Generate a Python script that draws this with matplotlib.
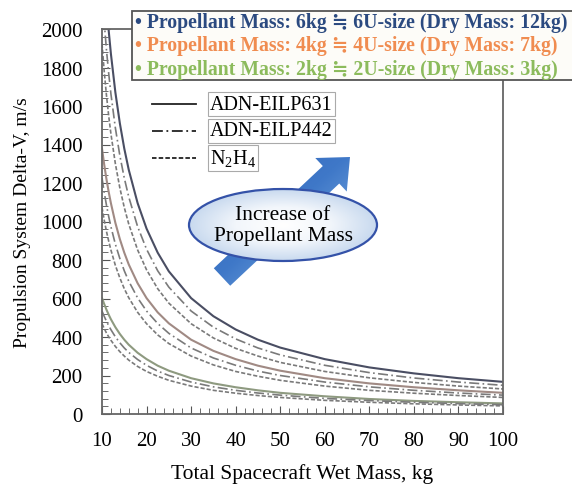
import numpy as np
import matplotlib
matplotlib.use('Agg')
import matplotlib.pyplot as plt
from matplotlib.patches import Ellipse, FancyArrow, Rectangle
from matplotlib.ticker import MultipleLocator
from matplotlib.colors import LinearSegmentedColormap

plt.rcParams['font.family'] = ['Liberation Serif', 'DejaVu Serif', 'DejaVu Sans']
plt.rcParams['mathtext.fontset'] = 'custom'
plt.rcParams['mathtext.rm'] = 'Liberation Serif'

# 横轴: 总湿质量 kg
wet_mass = [10, 10.5, 11, 11.5, 12, 13, 14, 15, 16, 18, 20, 22.5, 25, 30, 35, 40,
            45, 50, 60, 70, 80, 90, 100]

# 推进剂 6kg
dv6_631 = [2474, 2288, 2129, 1992, 1871, 1671, 1511, 1379, 1269, 1095, 963, 838,
           741, 602, 508, 439, 386, 345, 285, 242, 211, 186, 167]
dv6_442 = [2199, 2034, 1892, 1770, 1663, 1486, 1343, 1226, 1128, 973, 856, 744,
           659, 535, 451, 390, 343, 307, 253, 215, 187, 166, 149]
dv6_n2h4 = [1924, 1779, 1656, 1549, 1456, 1300, 1175, 1073, 987, 852, 749, 651,
            576, 469, 395, 341, 301, 268, 221, 188, 164, 145, 130]
# 推进剂 4kg
dv4_631 = [1379, 1295, 1220, 1154, 1095, 993, 909, 838, 777, 679, 602, 528,
           471, 386, 328, 285, 251, 225, 186, 159, 139, 123, 110]
dv4_442 = [1226, 1151, 1085, 1026, 973, 882, 808, 744, 690, 603, 535, 470,
           419, 343, 291, 253, 223, 200, 166, 141, 123, 109, 98]
dv4_n2h4 = [1073, 1007, 949, 898, 852, 772, 707, 651, 604, 528, 469, 411,
            366, 301, 255, 221, 196, 175, 145, 123, 108, 96, 86]
# 推进剂 2kg
dv2_631 = [602, 571, 542, 516, 492, 451, 416, 386, 360, 318, 285, 251,
           225, 186, 159, 139, 123, 110, 92, 78, 68, 61, 55]
dv2_442 = [535, 507, 482, 459, 438, 401, 370, 343, 320, 283, 253, 223,
           200, 166, 141, 123, 109, 98, 81, 70, 61, 54, 48]
dv2_n2h4 = [469, 444, 421, 401, 383, 351, 324, 301, 280, 247, 221, 196,
            175, 145, 123, 108, 96, 86, 71, 61, 53, 47, 42]

group_labels = ['Propellant Mass: 6kg ≒ 6U-size (Dry Mass: 12kg)',
                'Propellant Mass: 4kg ≒ 4U-size (Dry Mass: 7kg)',
                'Propellant Mass: 2kg ≒ 2U-size (Dry Mass: 3kg)']
group_colors = ['#2b4a80', '#f08c50', '#8cbb5c']
prop_labels = ['ADN-EILP631', 'ADN-EILP442', r'N$_2$H$_4$']

W, H = 572, 489
fig = plt.figure(figsize=(W / 100, H / 100), dpi=100)
ax = fig.add_axes([102 / W, 1 - 415 / H, 401 / W, 385 / H])

styles = ['-', (0, (6, 2, 1, 2)), (0, (2.5, 1.2))]
solid_cols = ['#4a4e63', '#a08a84', '#8e9a80']
grp = [[dv6_631, dv6_442, dv6_n2h4], [dv4_631, dv4_442, dv4_n2h4],
       [dv2_631, dv2_442, dv2_n2h4]]
for g, series in enumerate(grp):
    for p, s in enumerate(series):
        col = solid_cols[g] if p == 0 else '#7a7a7a'
        ax.plot(wet_mass, s, linestyle=styles[p], color=col,
                lw=1.5 if p == 0 else 1.2)

ax.set_xlim(10, 100)
ax.set_ylim(0, 2000)
ax.xaxis.set_major_locator(MultipleLocator(10))
ax.xaxis.set_minor_locator(MultipleLocator(2))
ax.yaxis.set_major_locator(MultipleLocator(200))
ax.yaxis.set_minor_locator(MultipleLocator(40))
ax.tick_params(which='both', direction='in', labelsize=15, color='#555555')
ax.tick_params(which='major', length=6)
ax.tick_params(which='minor', length=4)
ax.tick_params(axis='x', pad=12)
ax.tick_params(axis='y', pad=14)
for sp in ax.spines.values():
    sp.set_color('#666666')
    sp.set_linewidth(1.3)
ax.set_xlabel('Total Spacecraft Wet Mass, kg', fontsize=15.5, labelpad=10)
ax.set_ylabel('Propulsion System Delta-V, m/s', fontsize=14, labelpad=7)

# 覆盖层 (像素坐标)
ov = fig.add_axes([0, 0, 1, 1], zorder=5)
ov.set_xlim(0, W)
ov.set_ylim(H, 0)
ov.axis('off')

# 线型图例
for i in range(3):
    y = 105 + i * 27
    ov.plot([152, 196], [y, y], color='#222222', lw=1.3, linestyle=styles[i])
    ov.text(210, y, prop_labels[i], fontsize=14.5, va='center', ha='left',
            bbox=dict(boxstyle='square,pad=0.1', fc='white', ec='#aaaaaa', lw=0.8))

# 渐变箭头
arr = FancyArrow(222, 278, 128, -120, width=24, head_width=46, head_length=26,
                 length_includes_head=True, fc='none', ec='none')
ov.add_patch(arr)
gx, gy = np.meshgrid(np.linspace(0, 1, 100), np.linspace(0, 1, 100))
grad = (gx + gy) / 2
cm_arr = LinearSegmentedColormap.from_list('a', ['#2d5fb5', '#3f78c8', '#9cc9ee'])
im = ov.imshow(grad, extent=(200, 365, 295, 140), cmap=cm_arr, origin='upper',
               aspect='auto', zorder=2)
im.set_clip_path(arr)

# 椭圆
ell = Ellipse((283, 226), 188, 72, fc='none', ec='#3452a8', lw=1.6, zorder=4)
ov.add_patch(ell)
ex, ey = np.meshgrid(np.linspace(-1, 1, 100), np.linspace(-1, 1, 100))
rad = np.clip(np.sqrt(ex ** 2 + ey ** 2), 0, 1)
cm_ell = LinearSegmentedColormap.from_list('e', ['#ffffff', '#f2f6fb', '#c9daef'])
im2 = ov.imshow(rad, extent=(189, 377, 262, 190), cmap=cm_ell, aspect='auto',
                zorder=3)
im2.set_clip_path(ell)
ov.text(283, 226, 'Increase of\nPropellant Mass', fontsize=15.5, ha='center',
        va='center', linespacing=1.2, zorder=5)

# 彩色文字框
ov.add_patch(Rectangle((132, 12), 460, 69, fc='#fdfcf8', ec='#555555', lw=1.3,
                       zorder=6))
for i in range(3):
    y = 23 + i * 23.5
    ov.text(135, y, '• ' + group_labels[i], fontsize=14.2, fontweight='bold',
            color=group_colors[i], va='center', ha='left', zorder=7)

fig.savefig('out.png', dpi=100)
